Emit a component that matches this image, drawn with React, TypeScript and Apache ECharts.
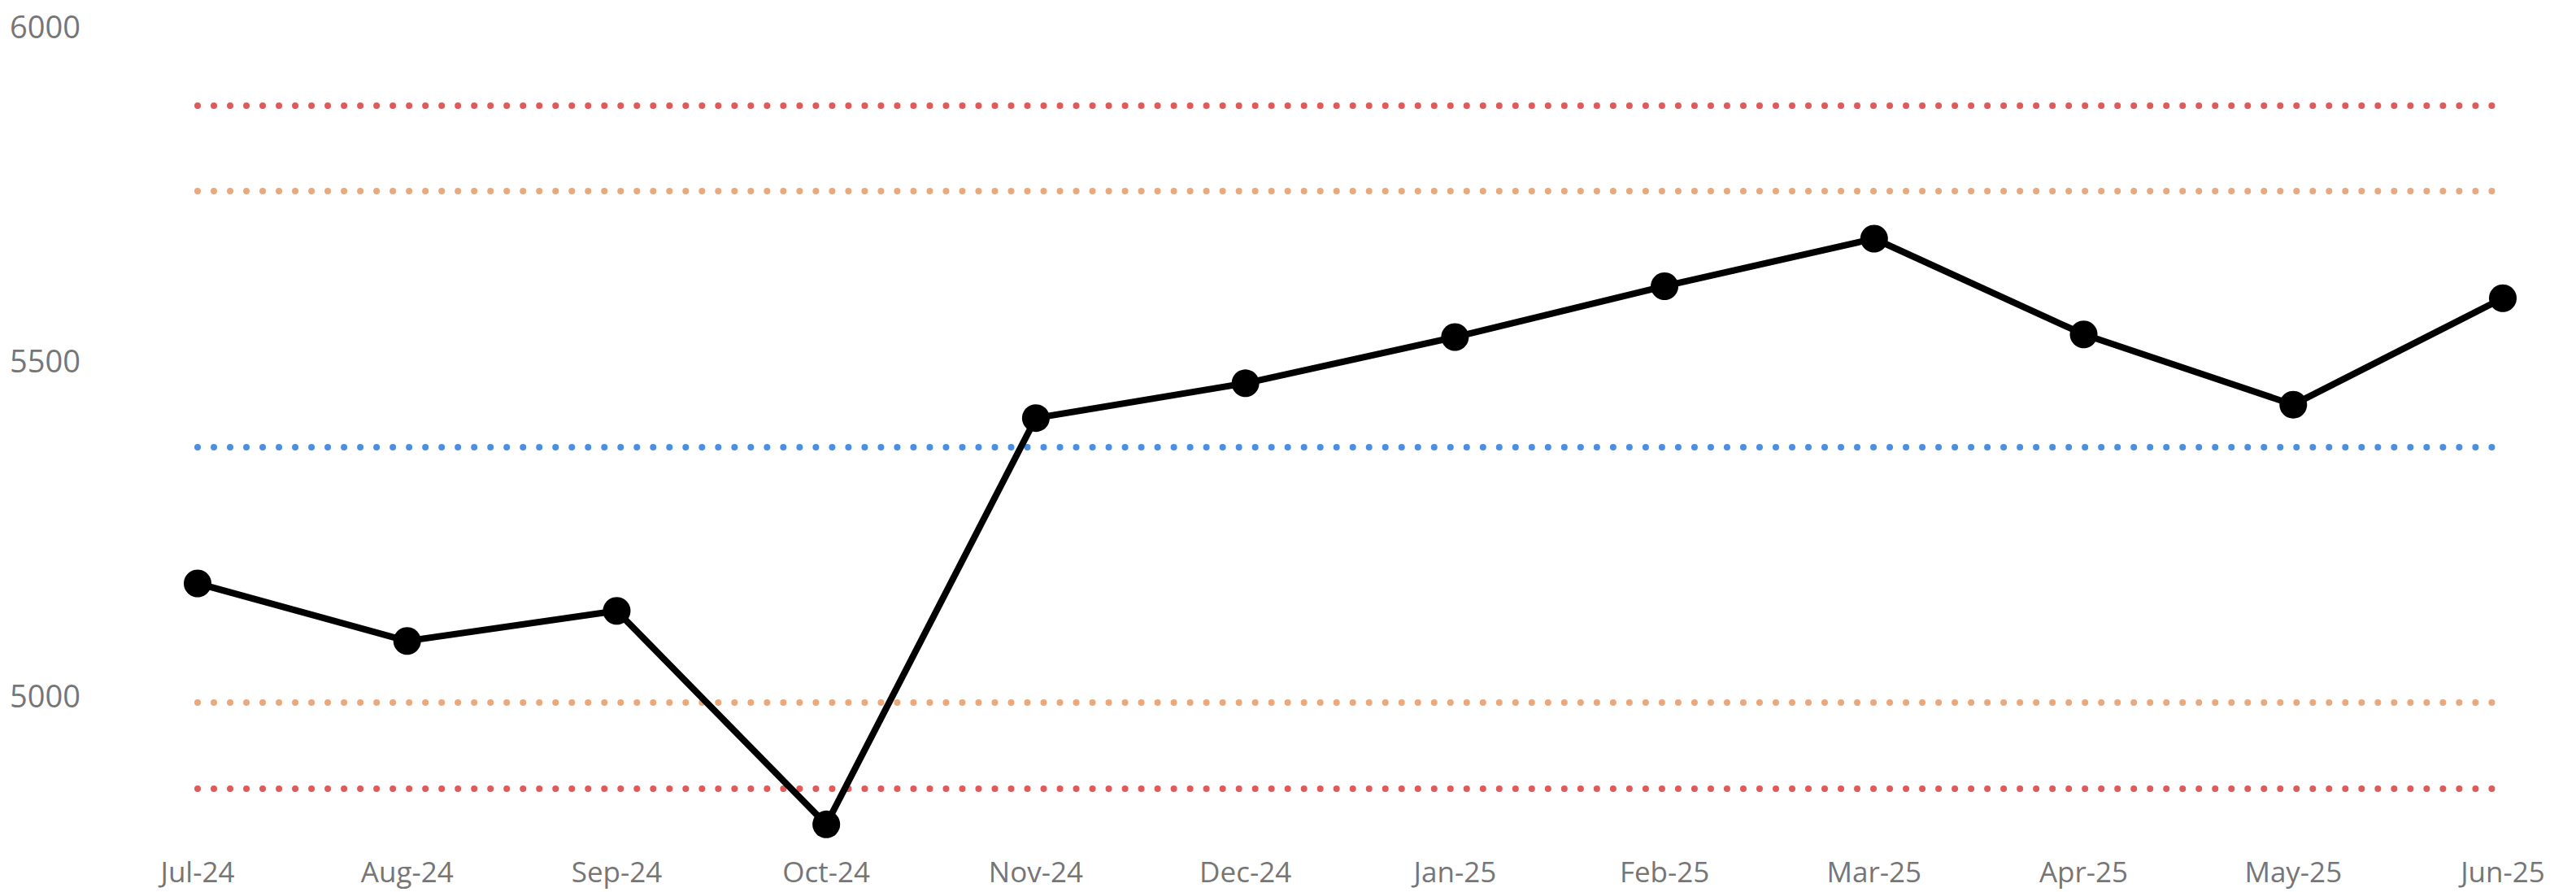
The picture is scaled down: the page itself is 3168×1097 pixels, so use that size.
import React, { useEffect, useRef } from "react";
import * as echarts from "echarts";

const categories = ["Jul-24", "Aug-24", "Sep-24", "Oct-24", "Nov-24", "Dec-24", "Jan-25", "Feb-25", "Mar-25", "Apr-25", "May-25", "Jun-25"];
const values = [5167, 5081, 5126, 4807, 5414, 5466, 5535, 5611, 5682, 5539, 5434, 5593];

const UCL = 5881;
const UPPER_WARN = 5753;
const MEAN = 5371;
const LOWER_WARN = 4989;
const LCL = 4861;

const yTicks = [5000, 5500, 6000];
const Y_MIN = 4780;
const Y_MAX = 6000;

const RED = "#E05A5A";
const ORANGE = "#E8A97F";
const BLUE = "#4A8FE2";
const LABEL = "#767676";

function refSeries(name: string, value: number, color: string) {
  return {
    name,
    type: "line",
    data: [],
    silent: true,
    z: 1,
    markLine: {
      silent: true,
      symbol: ["none", "none"],
      label: { show: false },
      emphasis: { disabled: true },
      lineStyle: { color, width: 8, type: [0.01, 20], cap: "round" },
      data: [{ yAxis: value }],
    },
  };
}

export default function App() {
  const ref = useRef<HTMLDivElement>(null);
  useEffect(() => {
    if (!ref.current) return;
    const chart = echarts.init(ref.current, undefined, { renderer: "svg" });
    chart.setOption({
      animation: false,
      backgroundColor: "#ffffff",
      grid: { left: 243, right: 90, top: 31.7, bottom: 60.9, containLabel: false },
      xAxis: {
        type: "category",
        data: categories,
        boundaryGap: false,
        axisLine: { show: false },
        axisTick: { show: false },
        splitLine: { show: false },
        axisLabel: {
          color: LABEL,
          fontFamily: "Open Sans",
          fontSize: 35,
          margin: 18,
          interval: 0,
        },
      },
      yAxis: {
        type: "value",
        min: Y_MIN,
        max: Y_MAX,
        axisLine: { show: false },
        axisTick: { show: false },
        splitLine: { show: false },
        axisLabel: {
          color: LABEL,
          fontFamily: "Open Sans",
          fontSize: 38,
          margin: 144,
          customValues: yTicks,
          formatter: (v: number) => String(v),
        },
      },
      series: [
        refSeries("UCL", UCL, RED),
        refSeries("Upper", UPPER_WARN, ORANGE),
        refSeries("Mean", MEAN, BLUE),
        refSeries("Lower", LOWER_WARN, ORANGE),
        refSeries("LCL", LCL, RED),
        {
          name: "Value",
          type: "line",
          data: values,
          z: 5,
          symbol: "circle",
          symbolSize: 34,
          showAllSymbol: true,
          lineStyle: { color: "#000000", width: 8 },
          itemStyle: { color: "#000000" },
          emphasis: { disabled: true },
        },
      ],
    });
    return () => chart.dispose();
  }, []);
  return <div ref={ref} style={{ position: "absolute", left: 0, top: 0, width: 3168, height: 1097 }} />;
}
